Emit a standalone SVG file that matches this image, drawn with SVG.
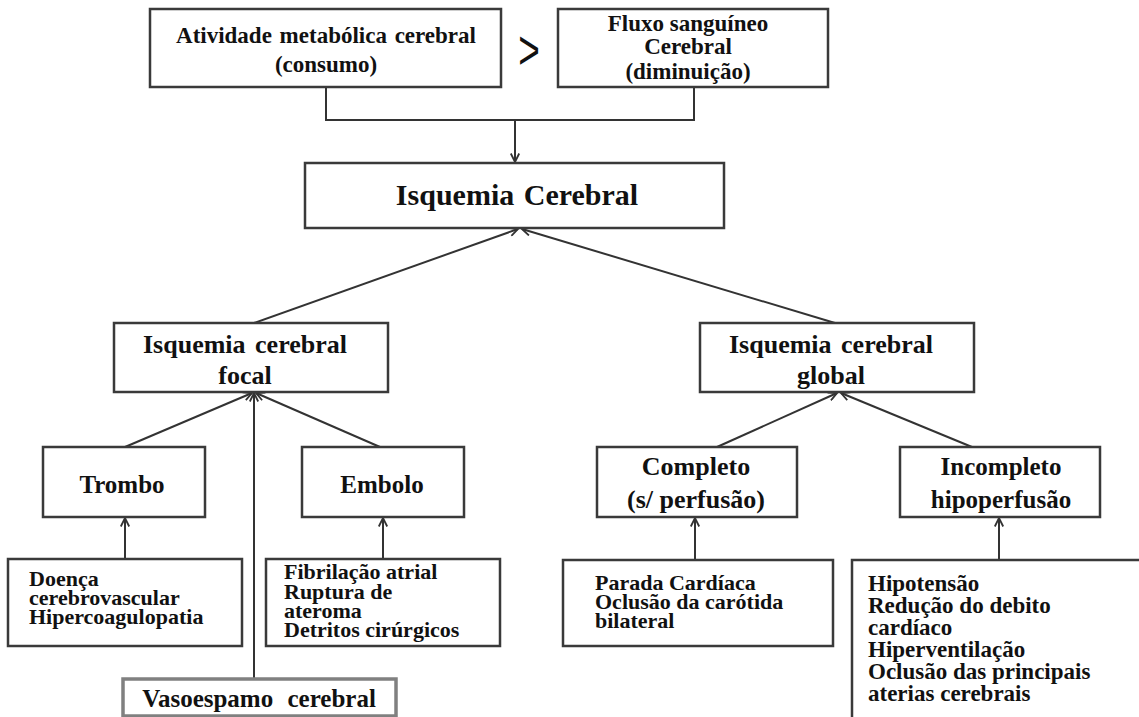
<svg xmlns="http://www.w3.org/2000/svg" width="1139" height="717" viewBox="0 0 1139 717">
<defs>
<style>
.box{fill:#fff;stroke:#3a3a3a;stroke-width:2.5}
.t{font-family:"Liberation Serif","Times New Roman",serif;font-weight:bold;fill:#111}
.c{text-anchor:middle}
.s22{font-size:22px}
.s23{font-size:23px}
.s25{font-size:25px}
.s26{font-size:26px}
.s30{font-size:30px}
.l{stroke:#333;stroke-width:2;fill:none}
</style>
<marker id="ah" viewBox="0 0 10 10" refX="9.5" refY="5" markerWidth="10" markerHeight="10" markerUnits="userSpaceOnUse" orient="auto">
<path d="M1,0.8 L9.5,5 L1,9.2" fill="none" stroke="#333" stroke-width="1.8"/>
</marker>
</defs>
<rect width="1139" height="717" fill="#fff"/>
<g id="connectors">
<polyline class="l" points="326,87 326,120 694,120 694,87"/>
<line class="l" x1="515" y1="120" x2="515" y2="162" marker-end="url(#ah)"/>
<line class="l" x1="254" y1="323" x2="518" y2="229" marker-end="url(#ah)"/>
<line class="l" x1="835" y1="323" x2="522" y2="229" marker-end="url(#ah)"/>
<line class="l" x1="125" y1="447" x2="252" y2="393" marker-end="url(#ah)"/>
<line class="l" x1="380" y1="447" x2="256" y2="393" marker-end="url(#ah)"/>
<line class="l" x1="254" y1="679" x2="254" y2="393" marker-end="url(#ah)"/>
<line class="l" x1="717" y1="447" x2="837" y2="393" marker-end="url(#ah)"/>
<line class="l" x1="972" y1="447" x2="841" y2="393" marker-end="url(#ah)"/>
<line class="l" x1="125" y1="559" x2="125" y2="518" marker-end="url(#ah)"/>
<line class="l" x1="383" y1="559" x2="383" y2="518" marker-end="url(#ah)"/>
<line class="l" x1="695" y1="560" x2="695" y2="518" marker-end="url(#ah)"/>
<line class="l" x1="999" y1="560" x2="999" y2="518" marker-end="url(#ah)"/>
</g>
<g id="n-atividade">
<rect class="box" x="150" y="9" width="351" height="78"/>
<text class="t c s23" x="326" y="43" word-spacing="2">Atividade metabólica cerebral</text>
<text class="t c s23" x="326" y="72">(consumo)</text>
</g>
<g id="n-gt">
<text transform="translate(529,69) scale(0.66,1)" x="0" y="0" text-anchor="middle" font-family="Liberation Sans, Arial, sans-serif" font-size="56" fill="#111">&gt;</text>
</g>
<g id="n-fluxo">
<rect class="box" x="558" y="9" width="270" height="78"/>
<text class="t c s23" x="688" y="31">Fluxo sanguíneo</text>
<text class="t c s23" x="688" y="54">Cerebral</text>
<text class="t c s23" x="688" y="79">(diminuição)</text>
</g>
<g id="n-isquemia">
<rect class="box" x="305" y="163" width="419" height="65"/>
<text class="t c s30" x="517" y="205" word-spacing="2">Isquemia Cerebral</text>
</g>
<g id="n-focal">
<rect class="box" x="114" y="323" width="274" height="69"/>
<text class="t c s26" x="245" y="353" word-spacing="3">Isquemia cerebral</text>
<text class="t c s26" x="245" y="384">focal</text>
</g>
<g id="n-global">
<rect class="box" x="700" y="323" width="274" height="69"/>
<text class="t c s26" x="831" y="353" word-spacing="3">Isquemia cerebral</text>
<text class="t c s26" x="831" y="384">global</text>
</g>
<g id="n-trombo">
<rect class="box" x="43" y="447" width="162" height="70"/>
<text class="t c s25" x="122" y="493">Trombo</text>
</g>
<g id="n-embolo">
<rect class="box" x="302" y="447" width="162" height="70"/>
<text class="t c s25" x="382" y="493">Embolo</text>
</g>
<g id="n-completo">
<rect class="box" x="597" y="447" width="200" height="70"/>
<text class="t c s26" x="696" y="475">Completo</text>
<text class="t c s26" x="696" y="508">(s/ perfusão)</text>
</g>
<g id="n-incompleto">
<rect class="box" x="900" y="447" width="200" height="70"/>
<text class="t c s25" x="1001" y="475">Incompleto</text>
<text class="t c s25" x="1001" y="508">hipoperfusão</text>
</g>
<g id="n-doenca">
<rect class="box" x="8" y="559" width="234" height="87"/>
<text class="t s22" x="29" y="586">Doença</text>
<text class="t s22" x="29" y="605">cerebrovascular</text>
<text class="t s22" x="29" y="624">Hipercoagulopatia</text>
</g>
<g id="n-fibrilacao">
<rect class="box" x="266" y="559" width="234" height="87"/>
<text class="t s22" x="284" y="579">Fibrilação atrial</text>
<text class="t s22" x="284" y="599">Ruptura de</text>
<text class="t s22" x="284" y="618">ateroma</text>
<text class="t s22" x="284" y="637">Detritos cirúrgicos</text>
</g>
<g id="n-vasoespamo">
<rect x="123" y="679" width="273" height="37" fill="#fff" stroke="#808080" stroke-width="3.5"/>
<text class="t c s25" x="259" y="707" word-spacing="8">Vasoespamo cerebral</text>
</g>
<g id="n-parada">
<rect class="box" x="563" y="560" width="270" height="86"/>
<text class="t s22" x="595" y="590">Parada Cardíaca</text>
<text class="t s22" x="595" y="609">Oclusão da carótida</text>
<text class="t s22" x="595" y="628">bilateral</text>
</g>
<g id="n-hipotensao">
<rect class="box" x="852" y="560" width="320" height="200"/>
<text class="t s23" x="868" y="591">Hipotensão</text>
<text class="t s23" x="868" y="613">Redução do debito</text>
<text class="t s23" x="868" y="635">cardíaco</text>
<text class="t s23" x="868" y="657">Hiperventilação</text>
<text class="t s23" x="868" y="679">Oclusão das principais</text>
<text class="t s23" x="868" y="701">aterias cerebrais</text>
</g>
</svg>
